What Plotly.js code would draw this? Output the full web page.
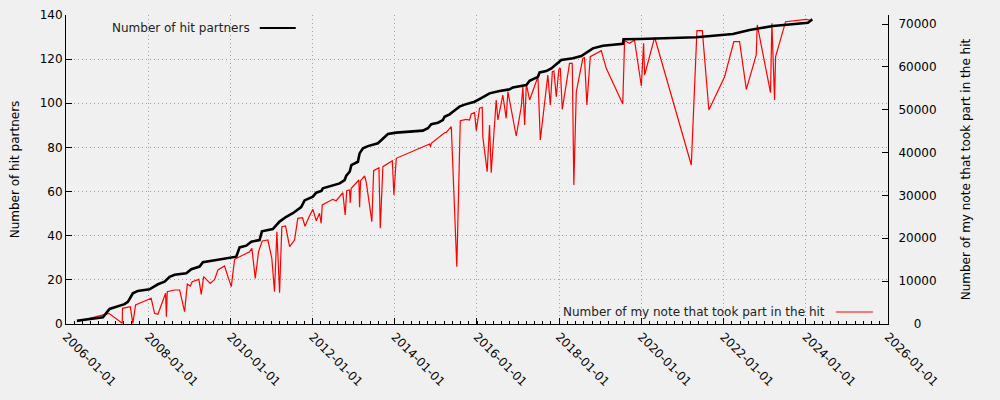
<!DOCTYPE html>
<html><head><meta charset="utf-8">
<script src="https://cdn.plot.ly/plotly-3.0.1.min.js"></script>
<style>html,body{margin:0;padding:0;background:#f0f0f0;}#chart{width:1000px;height:400px;}</style>
</head><body><div id="chart"></div>
<script>
const hitDates = ['2006-04-08','2006-11-25','2007-01-23','2007-06-05','2007-07-05','2007-08-18','2007-10-01','2008-01-13','2008-03-28','2008-05-26','2008-07-10','2008-08-23','2008-12-05','2009-01-19','2009-04-02','2009-05-02','2009-08-29','2009-12-25','2010-02-22','2010-03-24','2010-05-22','2010-07-06','2010-09-17','2010-10-08','2011-01-13','2011-03-14','2011-05-12','2011-07-10','2011-09-22','2011-10-22','2011-12-05','2012-01-04','2012-02-03','2012-03-19','2012-04-02','2012-06-16','2012-08-29','2012-10-12','2012-10-27','2012-11-26','2012-12-11','2013-02-07','2013-02-22','2013-03-24','2013-05-07','2013-08-04','2013-09-17','2013-11-01','2014-01-14','2014-09-07','2014-10-22','2014-11-21','2015-01-19','2015-03-04','2015-03-19','2015-05-03','2015-06-01','2015-07-30','2015-09-13','2015-12-11','2016-02-08','2016-04-22','2016-07-20','2016-10-17','2016-11-15','2017-03-15','2017-04-13','2017-06-26','2017-07-11','2017-09-08','2017-10-23','2018-01-20','2018-05-03','2018-07-16','2018-10-27','2019-01-24','2019-07-21','2019-07-27','2019-12-16','2021-05-03','2022-03-25','2022-08-20','2023-03-15','2024-01-20','2024-02-28'];
const hitPartners = [1.5,3,6.8,9,10,13.9,15,15.7,18,19.2,21.4,22.3,23,24.8,26,28,29,30.2,30.5,34.7,35.5,37.3,38,42,43,46.4,48.6,50.2,53,56,57,57.7,59.5,60.3,61.5,62.7,63.7,65.2,67.2,69,72,73.5,77.3,79.6,80.6,81.9,84.1,86.1,86.7,87.6,88.7,90.5,91.2,92.4,93.9,95,96.2,98.5,99.4,100.7,102.3,104.5,105.6,106.3,107.2,108.3,110.2,112,114,114.6,115.8,119.6,120.4,121.4,124.9,126.1,126.9,129,129.1,129.9,131.4,133.2,135,136.5,138];

const noteDates = ['2006-04-08','2006-10-26','2007-01-17','2007-05-16','2007-05-18','2007-07-26','2007-08-18','2007-09-11','2008-01-28','2008-02-27','2008-03-28','2008-06-04','2008-06-11','2008-06-19','2008-08-23','2008-10-07','2008-11-20','2008-12-14','2009-01-10','2009-01-27','2009-03-27','2009-04-17','2009-05-08','2009-07-06','2009-08-14','2009-09-12','2009-11-10','2009-12-10','2010-01-09','2010-02-07','2010-06-21','2010-07-11','2010-08-10','2010-09-08','2010-10-11','2010-11-30','2011-01-04','2011-01-28','2011-02-18','2011-03-14','2011-04-03','2011-05-06','2011-06-11','2011-07-25','2011-08-23','2011-10-04','2011-10-26','2011-12-01','2012-01-04','2012-02-03','2012-03-03','2012-03-18','2012-03-27','2012-06-29','2012-07-29','2012-09-26','2012-10-17','2012-10-31','2012-11-25','2012-12-01','2012-12-10','2013-02-16','2013-02-22','2013-03-03','2013-04-08','2013-04-23','2013-06-11','2013-06-27','2013-08-13','2013-08-25','2013-09-17','2013-12-10','2013-12-24','2014-01-14','2014-11-06','2014-11-15','2014-11-21','2015-03-19','2015-04-03','2015-05-18','2015-07-06','2015-08-06','2015-09-28','2015-10-27','2015-11-11','2015-12-11','2015-12-26','2016-01-24','2016-02-17','2016-02-22','2016-04-01','2016-04-22','2016-05-07','2016-06-20','2016-07-05','2016-08-18','2016-09-17','2016-10-02','2016-12-15','2017-01-29','2017-02-12','2017-02-28','2017-03-15','2017-04-13','2017-06-26','2017-07-17','2017-08-24','2017-09-22','2017-10-14','2017-11-01','2017-11-15','2017-12-06','2017-12-29','2018-01-11','2018-01-28','2018-04-03','2018-04-27','2018-05-11','2018-06-02','2018-07-30','2018-08-14','2018-09-04','2018-10-04','2019-01-10','2019-02-23','2019-07-20','2019-08-05','2019-09-18','2019-11-01','2020-01-01','2020-01-21','2020-01-30','2020-04-28','2021-03-20','2021-05-09','2021-06-26','2021-08-23','2022-01-10','2022-04-02','2022-05-23','2022-07-22','2022-10-18','2022-10-27','2023-02-22','2023-03-06','2023-03-30','2023-04-08','2023-07-06','2024-01-05','2024-02-04'];
const noteCounts = [540,1870,2490,160,3660,4040,160,4430,6000,2490,2260,7160,1710,7550,7930,7930,2880,9330,8870,9880,10420,6920,11040,9490,10420,12600,13530,11040,8710,15090,16870,17660,10660,16870,19370,19600,15330,7550,21540,7300,22700,22870,18040,19600,24660,24800,22800,25000,26760,24100,25830,23500,27770,29090,28770,30640,25430,31100,31270,28300,31660,33600,27230,33440,34530,32970,23870,35770,36470,22330,36700,38100,30100,38660,42000,41370,42160,44640,44720,46040,13370,47440,47760,47600,49000,49300,45100,50330,50560,43700,35540,46430,35310,52270,47600,53430,48000,54200,43870,50700,55370,46430,56000,52270,57700,42930,51870,58100,51100,58870,59030,53040,59420,59660,50100,60830,60830,32430,54200,62000,62140,51100,62370,63770,59660,51330,66100,65490,66260,55530,65490,58100,66900,37100,68440,68440,49930,57700,65870,65870,54760,62760,69770,53970,70160,52270,62370,70540,71100,70930];

const leftTickVals = [0,20,40,60,80,100,120,140];
const rightTickVals = [0,10000,20000,30000,40000,50000,60000,70000];
const rightTickText = ['\u2007\u20070','10000','20000','30000','40000','50000','60000','70000'];
const hitLabel = 'Number of hit partners';
const noteLabel = 'Number of my note that took part in the hit';

const grid = {showgrid:true, gridcolor:'#a0a0a0', griddash:'1px,3px', gridwidth:1};

const traces = [
  {x: noteDates, y: noteCounts, type:'scatter', mode:'lines', yaxis:'y', line:{color:'#ff0000', width:1.2}, name: noteLabel},
  {x: hitDates, y: hitPartners, type:'scatter', mode:'lines', yaxis:'y2', line:{color:'#000000', width:2.6}, name: hitLabel}
];

const layout = {
  width:1000, height:400,
  margin:{l:66, r:112, t:15, b:76, pad:0},
  paper_bgcolor:'#f0f0f0', plot_bgcolor:'#f0f0f0',
  font:{family:'DejaVu Sans', size:12, color:'#000'},
  showlegend:false,
  xaxis: Object.assign({
    type:'date', range:['2006-01-01','2026-01-01'], tick0:'2006-01-01', dtick:'M24',
    tickformat:'%Y-%m-%d', tickangle:45, ticks:'inside', ticklen:6, tickcolor:'#000',
    showline:true, linecolor:'#000', linewidth:1, zeroline:false,
    minor:{ticks:'inside', ticklen:3, tickcolor:'#000', dtick:6311520000, tick0:'2006-01-01', showgrid:false}
  }, grid),
  yaxis:{
    side:'right', range:[0,72100], tickmode:'array', tickvals:rightTickVals, ticktext:rightTickText,
    ticks:'inside', ticklen:6, tickcolor:'#000', showline:true, linecolor:'#000', linewidth:1,
    showgrid:false, zeroline:false, ticklabelstandoff:7,
    title:{text:noteLabel, standoff:26, font:{size:12}}
  },
  yaxis2: Object.assign({
    overlaying:'y', side:'left', range:[0,140], tickmode:'array', tickvals:leftTickVals,
    ticks:'inside', ticklen:6, tickcolor:'#000', showline:true, linecolor:'#000', linewidth:1,
    zeroline:false,
    title:{text:hitLabel, standoff:17, font:{size:12}}
  }, grid),
  annotations:[
    {xref:'paper', yref:'paper', x:0.2260, y:0.958, xanchor:'right', yanchor:'middle', text:hitLabel, showarrow:false, font:{size:12, color:'#222'}},
    {xref:'paper', yref:'paper', x:0.9258, y:0.0388, xanchor:'right', yanchor:'middle', text:noteLabel, showarrow:false, font:{size:12, color:'#222'}}
  ],
  shapes:[
    {type:'line', xref:'paper', yref:'paper', x0:0.2357, x1:0.2795, y0:0.958, y1:0.958, line:{color:'#000', width:2.2}},
    {type:'line', xref:'paper', yref:'paper', x0:0.9367, x1:0.9817, y0:0.0388, y1:0.0388, line:{color:'#ff0000', width:1}}
  ]
};

Plotly.newPlot('chart', traces, layout, {staticPlot:true, displayModeBar:false});
</script>
</body></html>
